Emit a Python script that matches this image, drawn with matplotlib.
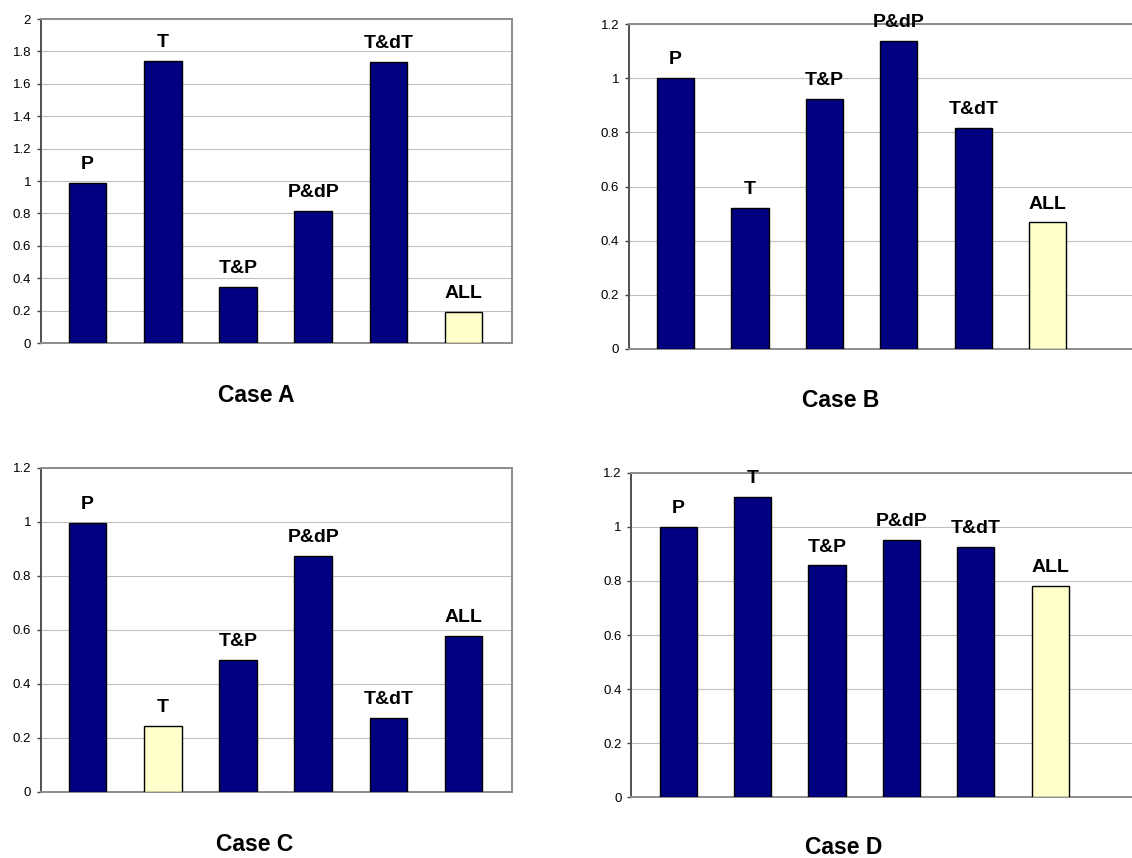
import numpy as np
import matplotlib
matplotlib.use("Agg")
import matplotlib.pyplot as plt

plt.rcParams['font.family'] = ['Liberation Sans', 'DejaVu Sans']

# data
labels = ['P', 'T', 'T&P', 'P&dP', 'T&dT', 'ALL']
case_a = [0.99, 1.74, 0.345, 0.815, 1.735, 0.19]
case_b = [1.0, 0.52, 0.925, 1.138, 0.815, 0.467]
case_c = [0.997, 0.245, 0.49, 0.872, 0.275, 0.578]
case_d = [1.0, 1.109, 0.857, 0.95, 0.925, 0.781]
titles = ['Case A', 'Case B', 'Case C', 'Case D']
highlight = [5, 5, 1, 5]   # index of the pale yellow bar
ymax = [2.0, 1.2, 1.2, 1.2]

W, H = 1132, 858
fig = plt.figure(figsize=(W / 100, H / 100), dpi=100)

# axes boxes in pixels: left, top, right, bottom
boxes = [(40.7, 19, 511.7, 343),
         (628.7, 24.3, 1132, 348.7),
         (40.7, 467.7, 511.7, 792),
         (631.3, 472.7, 1132, 797.3)]
xlims = [(-0.625, 5.64), (-0.63, 6.133), (-0.625, 5.64), (-0.63, 6.10)]
title_pos = [(256, 401.7), (840.7, 406.7), (255, 850.7), (843.7, 854)]

navy = '#000080'
pale = '#FFFFCC'

for i, vals in enumerate([case_a, case_b, case_c, case_d]):
    l, t, r, b = boxes[i]
    ax = fig.add_axes([l / W, 1 - b / H, (r - l) / W, (b - t) / H])
    x = np.arange(len(labels))
    colors = [pale if k == highlight[i] else navy for k in range(len(labels))]
    ax.bar(x, vals, width=0.5, color=colors, edgecolor='black', linewidth=1.0, zorder=3)
    for xi, v, lab in zip(x, vals, labels):
        ax.annotate(lab, (xi, v), xytext=(0, 10), textcoords='offset points',
                    ha='center', va='baseline', fontsize=14, fontweight='bold',
                    annotation_clip=False)
    ax.set_xlim(*xlims[i])
    ax.set_ylim(0, ymax[i])
    ax.set_yticks(np.arange(0, ymax[i] + 0.01, 0.2))
    ax.set_yticklabels(['%g' % round(v, 1) for v in np.arange(0, ymax[i] + 0.01, 0.2)])
    ax.set_xticks([])
    ax.yaxis.grid(True, color='#c0c0c0', linewidth=0.8, zorder=0)
    ax.set_axisbelow(True)
    ax.tick_params(axis='y', direction='out', length=3, width=1, color='#404040',
                   labelsize=9.5, pad=4)
    for side in ['top', 'bottom', 'right']:
        ax.spines[side].set_color('#8c8c8c')
        ax.spines[side].set_linewidth(1.4)
    ax.spines['left'].set_color('#505050')
    ax.spines['left'].set_linewidth(1.4)
    if i in (1, 3):
        ax.spines['right'].set_visible(False)
    tx, ty = title_pos[i]
    fig.text(tx / W, 1 - ty / H, titles[i], ha='center', va='baseline',
             fontsize=16.5, fontweight='bold')

fig.savefig('out.png', dpi=100)
